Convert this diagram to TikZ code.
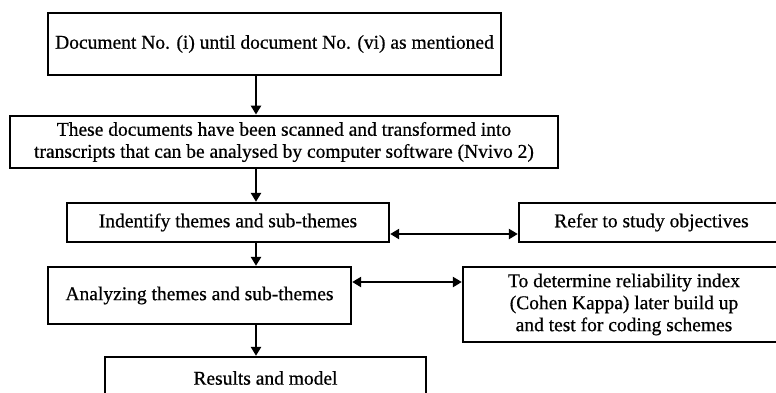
\documentclass[tikz,border=0pt]{standalone}
\usepackage{fontspec}
\setmainfont{Liberation Serif}[FakeBold=0.6]
\usetikzlibrary{arrows.meta}
\begin{document}
\begin{tikzpicture}[x=1pt,y=1pt,
  box/.style={draw=black, line width=2.3pt, fill=white, align=center, inner sep=0pt,
    font=\fontsize{19.5}{22}\selectfont},
  arr/.style={line width=2.3pt, -{Triangle[width=10pt,length=9pt]}},
  darr/.style={line width=2.3pt, {Triangle[width=10pt,length=9pt]}-{Triangle[width=10pt,length=9pt]}}]
\useasboundingbox (0,0) rectangle (776,-392);
\clip (0,0) rectangle (776,-392);
\fill[white] (0,0) rectangle (776,-392);
\node[box, minimum width=453pt, minimum height=62pt] (b1) at (274.5,-44) {Document No. (i) until document No. (vi) as mentioned};
\node[box, line width=2.8pt, minimum width=548pt, minimum height=52pt] (b2) at (284,-142) {These documents have been scanned and transformed into\\transcripts that can be analysed by computer software (Nvivo 2)};
\node[box, minimum width=322pt, minimum height=39pt] (b3) at (228,-222.5) {Indentify themes and sub-themes};
\node[box, minimum width=265pt, minimum height=39pt] (ref) at (651.5,-222.5) {Refer to study objectives};
\node[box, minimum width=303pt, minimum height=57pt] (b4) at (199.5,-295.5) {Analyzing themes and sub-themes};
\node[box, minimum width=322pt, minimum height=75pt] (rel) at (624,-304.5) {To determine reliability index\\(Cohen Kappa) later build up\\and test for coding schemes};
\node[box, minimum width=321pt, minimum height=42pt] (b5) at (265.5,-378) {Results and model};
\coordinate (ax) at (256,0);
\coordinate (h1) at (0,-234);
\coordinate (h2) at (0,-282);
\draw[arr] (b1.south -| ax) -- (b2.north -| ax);
\draw[arr] (b2.south -| ax) -- (b3.north -| ax);
\draw[arr] (b3.south -| ax) -- (b4.north -| ax);
\draw[arr] (b4.south -| ax) -- (b5.north -| ax);
\draw[darr] (b3.east |- h1) -- (ref.west |- h1);
\draw[darr] (b4.east |- h2) -- (rel.west |- h2);
\end{tikzpicture}
\end{document}
